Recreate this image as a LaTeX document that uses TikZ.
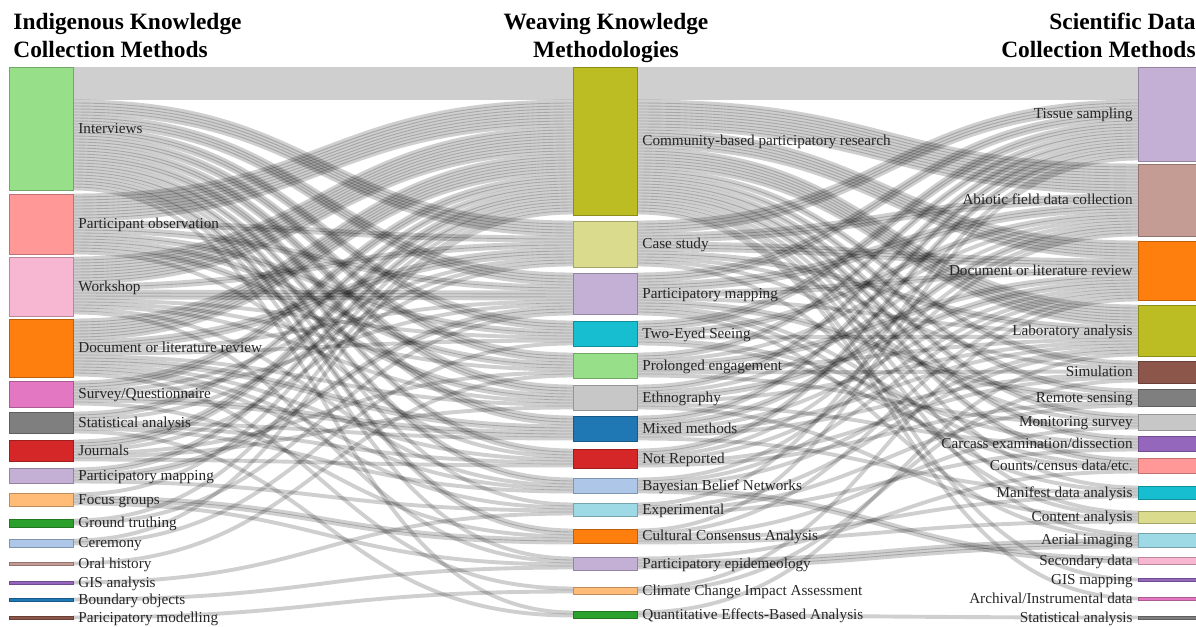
\documentclass[tikz,border=0pt]{standalone}
\usepackage{fontspec}
\setmainfont{Liberation Serif}
\usetikzlibrary{calc,backgrounds}

\definecolor{bleu}{HTML}{1F77B4}
\definecolor{bleuclair}{HTML}{AEC7E8}
\definecolor{orange}{HTML}{FF7F0E}
\definecolor{orangeclair}{HTML}{FFBB78}
\definecolor{vert}{HTML}{2CA02C}
\definecolor{vertclair}{HTML}{98DF8A}
\definecolor{rouge}{HTML}{D62728}
\definecolor{rougeclair}{HTML}{FF9896}
\definecolor{violet}{HTML}{9467BD}
\definecolor{violetclair}{HTML}{C5B0D5}
\definecolor{brun}{HTML}{8C564B}
\definecolor{brunclair}{HTML}{C49C94}
\definecolor{rose}{HTML}{E377C2}
\definecolor{roseclair}{HTML}{F7B6D2}
\definecolor{gris}{HTML}{7F7F7F}
\definecolor{grisclair}{HTML}{C7C7C7}
\definecolor{olive}{HTML}{BCBD22}
\definecolor{oliveclair}{HTML}{DBDB8D}
\definecolor{cyan}{HTML}{17BECF}
\definecolor{cyanclair}{HTML}{9EDAE5}

% un flux de #3 unites de #1 vers #2, empile depuis le haut des barres
\newcommand\lien[3]{%
  \foreach \k in {1,...,#3}{%
    \edef\so{\ifcsname o@#1\endcsname\csname o@#1\endcsname\else 0\fi}%
    \edef\si{\ifcsname i@#2\endcsname\csname i@#2\endcsname\else 0\fi}%
    \coordinate (s) at ($(#1.north east)+(0,\so*3+1.5)$);
    \coordinate (t) at ($(#2.north west)+(0,\si*3+1.5)$);
    \coordinate (m) at ($(s)!0.5!(t)$);
    \draw[flux] (s) .. controls (m |- s) and (m |- t) .. (t);
    \expandafter\xdef\csname o@#1\endcsname{\the\numexpr\so+1\relax}%
    \expandafter\xdef\csname i@#2\endcsname{\the\numexpr\si+1\relax}%
  }%
}

\begin{document}
\begin{tikzpicture}[x=0.5pt, y=-0.5pt]
\tikzset{barre/.style={draw=#1!75!black, fill=#1, line width=0.5pt, minimum width=32pt, anchor=north west, inner sep=0pt, outer sep=0pt},
  flux/.style={draw=black, draw opacity=0.19, line width=1.95pt},
  etiq/.style={inner sep=0pt, text=black!85, font=\fontsize{7.6}{9}\selectfont},
  titre/.style={inner sep=0pt, font=\bfseries\fontsize{11.7}{14}\selectfont}}
\useasboundingbox (0,0) rectangle (1196,627);
\clip (0,0) rectangle (1196,627);

% titres
\node[titre, anchor=base west] (T1) at (13,29) {Indigenous Knowledge};
\node[titre, anchor=base west] (T2) at (13,57) {Collection Methods};
\node[titre, anchor=base] (T3) at (606,29) {Weaving Knowledge};
\node[titre, anchor=base] (T4) at (606,57) {Methodologies};
\node[titre, anchor=base east] (T5) at (1196,29) {Scientific Data};
\node[titre, anchor=base east] (T6) at (1196,57) {Collection Methods};

% colonne de gauche
\node[barre=vertclair, minimum height=61.5pt] (L1) at (9,67) {};
\node[barre=rougeclair, minimum height=30pt] (L2) at (9,194) {};
\node[barre=roseclair, minimum height=29.5pt] (L3) at (9,257) {};
\node[barre=orange, minimum height=29pt] (L4) at (9,319) {};
\node[barre=rose, minimum height=13pt] (L5) at (9,381) {};
\node[barre=gris, minimum height=10.5pt] (L6) at (9,412) {};
\node[barre=rouge, minimum height=10.5pt] (L7) at (9,440) {};
\node[barre=violetclair, minimum height=7.5pt] (L8) at (9,468) {};
\node[barre=orangeclair, minimum height=6.5pt] (L9) at (9,493) {};
\node[barre=vert, minimum height=4pt] (L10) at (9,519) {};
\node[barre=bleuclair, minimum height=4pt] (L11) at (9,539) {};
\node[barre=brunclair, minimum height=1.5pt] (L12) at (9,562) {};
\node[barre=violet, minimum height=1.5pt] (L13) at (9,581) {};
\node[barre=bleu, minimum height=1.5pt] (L14) at (9,598) {};
\node[barre=brun, minimum height=1.5pt] (L15) at (9,616) {};

% colonne du milieu
\node[barre=olive, minimum height=74pt] (M1) at (573,67) {};
\node[barre=oliveclair, minimum height=23pt] (M2) at (573,221) {};
\node[barre=violetclair, minimum height=20.5pt] (M3) at (573,273) {};
\node[barre=cyan, minimum height=12.5pt] (M4) at (573,321) {};
\node[barre=vertclair, minimum height=12.5pt] (M5) at (573,353) {};
\node[barre=grisclair, minimum height=12.5pt] (M6) at (573,385) {};
\node[barre=bleu, minimum height=12.5pt] (M7) at (573,416) {};
\node[barre=rouge, minimum height=9.5pt] (M8) at (573,449) {};
\node[barre=bleuclair, minimum height=7.5pt] (M9) at (573,478) {};
\node[barre=cyanclair, minimum height=6.5pt] (M10) at (573,503) {};
\node[barre=orange, minimum height=7pt] (M11) at (573,529) {};
\node[barre=violetclair, minimum height=6.5pt] (M12) at (573,557) {};
\node[barre=orangeclair, minimum height=3.5pt] (M13) at (573,587) {};
\node[barre=vert, minimum height=3.5pt] (M14) at (573,611) {};

% colonne de droite
\node[barre=violetclair, minimum height=47pt] (R1) at (1138,67) {};
\node[barre=brunclair, minimum height=36pt] (R2) at (1138,164) {};
\node[barre=orange, minimum height=29.5pt] (R3) at (1138,241) {};
\node[barre=olive, minimum height=25.5pt] (R4) at (1138,305) {};
\node[barre=brun, minimum height=11pt] (R5) at (1138,361) {};
\node[barre=gris, minimum height=8.5pt] (R6) at (1138,389) {};
\node[barre=grisclair, minimum height=8pt] (R7) at (1138,414) {};
\node[barre=violet, minimum height=7.5pt] (R8) at (1138,436) {};
\node[barre=rougeclair, minimum height=7.5pt] (R9) at (1138,458) {};
\node[barre=cyan, minimum height=6.5pt] (R10) at (1138,486) {};
\node[barre=oliveclair, minimum height=6pt] (R11) at (1138,511) {};
\node[barre=cyanclair, minimum height=7pt] (R12) at (1138,533) {};
\node[barre=roseclair, minimum height=3.5pt] (R13) at (1138,557) {};
\node[barre=violet, minimum height=1.5pt] (R14) at (1138,578) {};
\node[barre=rose, minimum height=1.5pt] (R15) at (1138,597) {};
\node[barre=gris, minimum height=1.5pt] (R16) at (1138,616) {};

% flux
\begin{pgfonlayer}{background}
\lien{L1}{M1}{11} \lien{L1}{M2}{5} \lien{L1}{M3}{4} \lien{L1}{M4}{3} \lien{L1}{M5}{3} \lien{L1}{M6}{3} \lien{L1}{M7}{3}
\lien{L1}{M8}{2} \lien{L1}{M9}{2} \lien{L1}{M10}{1} \lien{L1}{M11}{2} \lien{L1}{M12}{1} \lien{L1}{M14}{1}
\lien{L2}{M1}{9} \lien{L2}{M2}{2} \lien{L2}{M3}{2} \lien{L2}{M4}{2} \lien{L2}{M5}{2} \lien{L2}{M6}{2} \lien{L2}{M8}{1}
\lien{L3}{M1}{9} \lien{L3}{M2}{2} \lien{L3}{M3}{3} \lien{L3}{M4}{1} \lien{L3}{M5}{1} \lien{L3}{M6}{1} \lien{L3}{M9}{1} \lien{L3}{M12}{1}
\lien{L4}{M1}{7} \lien{L4}{M2}{3} \lien{L4}{M3}{1} \lien{L4}{M4}{1} \lien{L4}{M6}{1} \lien{L4}{M7}{2} \lien{L4}{M8}{1}
\lien{L4}{M9}{1} \lien{L4}{M10}{1} \lien{L4}{M13}{1}
\lien{L5}{M1}{3} \lien{L5}{M2}{1} \lien{L5}{M3}{1} \lien{L5}{M7}{2} \lien{L5}{M11}{1}
\lien{L6}{M1}{2} \lien{L6}{M2}{1} \lien{L6}{M7}{1} \lien{L6}{M8}{1} \lien{L6}{M9}{1} \lien{L6}{M14}{1}
\lien{L7}{M1}{3} \lien{L7}{M2}{1} \lien{L7}{M5}{1} \lien{L7}{M6}{1} \lien{L7}{M8}{1}
\lien{L8}{M1}{2} \lien{L8}{M3}{2} \lien{L8}{M10}{1}
\lien{L9}{M1}{1} \lien{L9}{M11}{2} \lien{L9}{M12}{1}
\lien{L10}{M1}{1} \lien{L10}{M3}{1}
\lien{L11}{M1}{1} \lien{L11}{M4}{1}
\lien{L12}{M5}{1} \lien{L13}{M10}{1} \lien{L14}{M12}{1} \lien{L15}{M13}{1}
\lien{M1}{R1}{11} \lien{M1}{R2}{10} \lien{M1}{R3}{6} \lien{M1}{R4}{7} \lien{M1}{R5}{2} \lien{M1}{R6}{2} \lien{M1}{R7}{2}
\lien{M1}{R8}{2} \lien{M1}{R9}{2} \lien{M1}{R10}{1} \lien{M1}{R11}{1} \lien{M1}{R12}{1} \lien{M1}{R14}{1} \lien{M1}{R15}{1}
\lien{M2}{R1}{4} \lien{M2}{R2}{3} \lien{M2}{R3}{3} \lien{M2}{R4}{2} \lien{M2}{R5}{1} \lien{M2}{R7}{1} \lien{M2}{R11}{1}
\lien{M3}{R1}{3} \lien{M3}{R2}{3} \lien{M3}{R3}{2} \lien{M3}{R4}{1} \lien{M3}{R6}{2} \lien{M3}{R9}{1} \lien{M3}{R10}{1} \lien{M3}{R12}{1}
\lien{M4}{R1}{3} \lien{M4}{R2}{2} \lien{M4}{R4}{1} \lien{M4}{R8}{1} \lien{M4}{R9}{1}
\lien{M5}{R1}{2} \lien{M5}{R2}{1} \lien{M5}{R3}{2} \lien{M5}{R4}{1} \lien{M5}{R5}{1} \lien{M5}{R7}{1}
\lien{M6}{R1}{2} \lien{M6}{R2}{1} \lien{M6}{R3}{2} \lien{M6}{R4}{1} \lien{M6}{R8}{1} \lien{M6}{R11}{1}
\lien{M7}{R1}{2} \lien{M7}{R2}{2} \lien{M7}{R3}{1} \lien{M7}{R4}{1} \lien{M7}{R5}{1} \lien{M7}{R10}{1}
\lien{M8}{R1}{2} \lien{M8}{R2}{1} \lien{M8}{R3}{1} \lien{M8}{R5}{1} \lien{M8}{R6}{1}
\lien{M9}{R2}{1} \lien{M9}{R3}{1} \lien{M9}{R4}{1} \lien{M9}{R13}{2}
\lien{M10}{R1}{1} \lien{M10}{R4}{1} \lien{M10}{R6}{1} \lien{M10}{R8}{1}
\lien{M11}{R1}{1} \lien{M11}{R3}{1} \lien{M11}{R7}{1} \lien{M11}{R10}{1} \lien{M11}{R11}{1}
\lien{M12}{R9}{1} \lien{M12}{R12}{3}
\lien{M13}{R3}{1} \lien{M13}{R5}{1}
\lien{M14}{R4}{1} \lien{M14}{R16}{1}
\end{pgfonlayer}

% etiquettes
\node[etiq, anchor=mid west] (tL1) at ([xshift=2.5pt]L1.east) {Interviews};
\node[etiq, anchor=mid west] (tL2) at ([xshift=2.5pt]L2.east) {Participant observation};
\node[etiq, anchor=mid west] (tL3) at ([xshift=2.5pt]L3.east) {Workshop};
\node[etiq, anchor=mid west] (tL4) at ([xshift=2.5pt]L4.east) {Document or literature review};
\node[etiq, anchor=mid west] (tL5) at ([xshift=2.5pt]L5.east) {Survey/Questionnaire};
\node[etiq, anchor=mid west] (tL6) at ([xshift=2.5pt]L6.east) {Statistical analysis};
\node[etiq, anchor=mid west] (tL7) at ([xshift=2.5pt]L7.east) {Journals};
\node[etiq, anchor=mid west] (tL8) at ([xshift=2.5pt]L8.east) {Participatory mapping};
\node[etiq, anchor=mid west] (tL9) at ([xshift=2.5pt]L9.east) {Focus groups};
\node[etiq, anchor=mid west] (tL10) at ([xshift=2.5pt]L10.east) {Ground truthing};
\node[etiq, anchor=mid west] (tL11) at ([xshift=2.5pt]L11.east) {Ceremony};
\node[etiq, anchor=mid west] (tL12) at ([xshift=2.5pt]L12.east) {Oral history};
\node[etiq, anchor=mid west] (tL13) at ([xshift=2.5pt]L13.east) {GIS analysis};
\node[etiq, anchor=mid west] (tL14) at ([xshift=2.5pt]L14.east) {Boundary objects};
\node[etiq, anchor=mid west] (tL15) at ([xshift=2.5pt]L15.east) {Paricipatory modelling};

\node[etiq, anchor=mid west] (tM1) at ([xshift=2.5pt]M1.east) {Community-based participatory research};
\node[etiq, anchor=mid west] (tM2) at ([xshift=2.5pt]M2.east) {Case study};
\node[etiq, anchor=mid west] (tM3) at ([xshift=2.5pt]M3.east) {Participatory mapping};
\node[etiq, anchor=mid west] (tM4) at ([xshift=2.5pt]M4.east) {Two-Eyed Seeing};
\node[etiq, anchor=mid west] (tM5) at ([xshift=2.5pt]M5.east) {Prolonged engagement};
\node[etiq, anchor=mid west] (tM6) at ([xshift=2.5pt]M6.east) {Ethnography};
\node[etiq, anchor=mid west] (tM7) at ([xshift=2.5pt]M7.east) {Mixed methods};
\node[etiq, anchor=mid west] (tM8) at ([xshift=2.5pt]M8.east) {Not Reported};
\node[etiq, anchor=mid west] (tM9) at ([xshift=2.5pt]M9.east) {Bayesian Belief Networks};
\node[etiq, anchor=mid west] (tM10) at ([xshift=2.5pt]M10.east) {Experimental};
\node[etiq, anchor=mid west] (tM11) at ([xshift=2.5pt]M11.east) {Cultural Consensus Analysis};
\node[etiq, anchor=mid west] (tM12) at ([xshift=2.5pt]M12.east) {Participatory epidemeology};
\node[etiq, anchor=mid west] (tM13) at ([xshift=2.5pt]M13.east) {Climate Change Impact Assessment};
\node[etiq, anchor=mid west] (tM14) at ([xshift=2.5pt]M14.east) {Quantitative Effects-Based Analysis};

\node[etiq, anchor=mid east] (tR1) at ([xshift=-2.5pt]R1.west) {Tissue sampling};
\node[etiq, anchor=mid east] (tR2) at ([xshift=-2.5pt]R2.west) {Abiotic field data collection};
\node[etiq, anchor=mid east] (tR3) at ([xshift=-2.5pt]R3.west) {Document or literature review};
\node[etiq, anchor=mid east] (tR4) at ([xshift=-2.5pt]R4.west) {Laboratory analysis};
\node[etiq, anchor=mid east] (tR5) at ([xshift=-2.5pt]R5.west) {Simulation};
\node[etiq, anchor=mid east] (tR6) at ([xshift=-2.5pt]R6.west) {Remote sensing};
\node[etiq, anchor=mid east] (tR7) at ([xshift=-2.5pt]R7.west) {Monitoring survey};
\node[etiq, anchor=mid east] (tR8) at ([xshift=-2.5pt]R8.west) {Carcass examination/dissection};
\node[etiq, anchor=mid east] (tR9) at ([xshift=-2.5pt]R9.west) {Counts/census data/etc.};
\node[etiq, anchor=mid east] (tR10) at ([xshift=-2.5pt]R10.west) {Manifest data analysis};
\node[etiq, anchor=mid east] (tR11) at ([xshift=-2.5pt]R11.west) {Content analysis};
\node[etiq, anchor=mid east] (tR12) at ([xshift=-2.5pt]R12.west) {Aerial imaging};
\node[etiq, anchor=mid east] (tR13) at ([xshift=-2.5pt]R13.west) {Secondary data};
\node[etiq, anchor=mid east] (tR14) at ([xshift=-2.5pt]R14.west) {GIS mapping};
\node[etiq, anchor=mid east] (tR15) at ([xshift=-2.5pt]R15.west) {Archival/Instrumental data};
\node[etiq, anchor=mid east] (tR16) at ([xshift=-2.5pt]R16.west) {Statistical analysis};
\end{tikzpicture}
\end{document}
